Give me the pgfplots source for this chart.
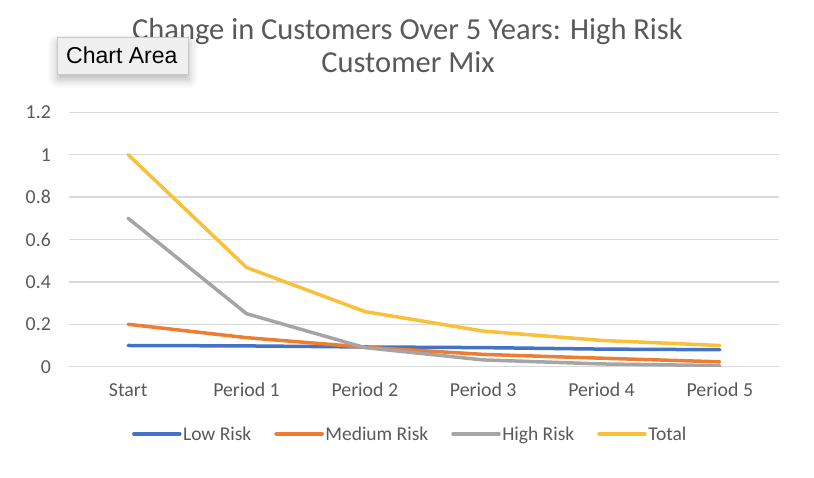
\documentclass[border=0pt]{standalone}
\usepackage{fontspec}
\setmainfont{Carlito}
\newfontfamily\tipfont{Liberation Sans}
\usepackage{pgfplots}
\pgfplotsset{compat=1.18}
\usetikzlibrary{shadows.blur}
\definecolor{lowc}{HTML}{4472C4}
\definecolor{medc}{HTML}{ED7D31}
\definecolor{highc}{HTML}{A5A5A5}
\definecolor{totc}{HTML}{F9C03A}
\definecolor{txtc}{HTML}{595959}
\definecolor{gridc}{HTML}{D9D9D9}
\begin{document}
\begin{tikzpicture}[x=1pt,y=1pt]
\useasboundingbox (0,0) rectangle (814,478);
\begin{axis}[
  at={(69pt,111.3pt)}, anchor=south west, scale only axis,
  width=710pt, height=254.4pt,
  xmin=-0.5, xmax=5.5, ymin=0, ymax=1.2,
  xtick={0,1,2,3,4,5},
  xticklabels={Start,Period 1,Period 2,Period 3,Period 4,Period 5},
  ytick={0,0.2,0.4,0.6,0.8,1,1.2},
  yticklabels={0,0.2,0.4,0.6,0.8,1,1.2},
  axis line style={draw=none},
  major tick length=0pt,
  ymajorgrids, grid style={gridc, line width=1.3pt},
  tick label style={font=\fontsize{19.8}{22}\selectfont, text=txtc},
  xticklabel style={anchor=base, yshift=-29.5pt},
  yticklabel style={anchor=east, inner sep=0pt, xshift=-18pt},
  legend columns=4,
  legend style={at={(0.4803,-0.2645)}, anchor=center, draw=none, fill=none,
    font=\fontsize{19.5}{22}\selectfont, text=txtc,
    /tikz/every even column/.append style={column sep=21.5pt},
    nodes={inner sep=1.5pt}},
  legend image code/.code={\draw[#1, line width=3.5pt] (0pt,0pt) -- (46pt,0pt);},
  every axis plot/.append style={line width=3.5pt, line join=round, line cap=round, mark=none},
]
\addplot[lowc] coordinates {(0,0.1) (1,0.098) (2,0.093) (3,0.09) (4,0.083) (5,0.08)};
\addlegendentry{Low Risk}
\addplot[medc] coordinates {(0,0.2) (1,0.137) (2,0.092) (3,0.058) (4,0.04) (5,0.023)};
\addlegendentry{Medium Risk}
\addplot[highc] coordinates {(0,0.7) (1,0.25) (2,0.09) (3,0.032) (4,0.013) (5,0.005)};
\addlegendentry{High Risk}
\addplot[totc] coordinates {(0,1.0) (1,0.468) (2,0.26) (3,0.168) (4,0.124) (5,0.1)};
\addlegendentry{Total}
\end{axis}
\node[font=\fontsize{30.5}{36}\selectfont, text=txtc, anchor=base] at (407.5,438.7) {Change in Customers Over 5 Years: High Risk};
\node[font=\fontsize{30.5}{36}\selectfont, text=txtc, anchor=base] at (408,405.7) {Customer Mix};
\node[fill={rgb,255:red,240;green,240;blue,240}, draw={rgb,255:red,200;green,200;blue,200}, line width=0.6pt,
  blur shadow={shadow xshift=0pt, shadow yshift=-5pt, shadow blur radius=9pt, shadow opacity=30},
  minimum width=131pt, minimum height=36.7pt, anchor=north west, inner sep=0pt] at (57.3,440.7) {};
\node[font=\tipfont\fontsize{23}{26}\selectfont, anchor=base west, inner sep=0pt] at (66,414) {Chart Area};
\end{tikzpicture}
\end{document}
